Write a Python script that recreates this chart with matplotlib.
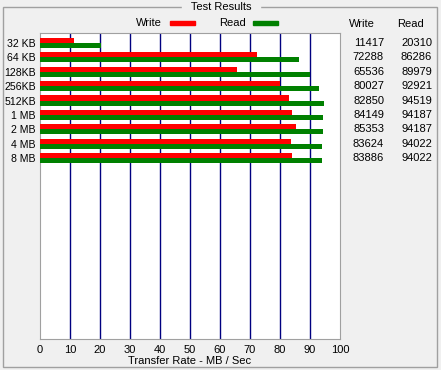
import matplotlib.pyplot as plt
from matplotlib.patches import Rectangle
import numpy as np

sizes = ['32 KB', '64 KB', '128KB', '256KB', '512KB', '1 MB', '2 MB', '4 MB', '8 MB']
write_kb = [11417, 72288, 65536, 80027, 82850, 84149, 85353, 83624, 83886]
read_kb = [20310, 86286, 89979, 92921, 94519, 94187, 94187, 94022, 94022]

W, H = 441, 370
bg = '#f0f0f0'
fs = 8
plt.rcParams['font.family'] = ['Liberation Sans', 'DejaVu Sans']

fig = plt.figure(figsize=(W / 100, H / 100), dpi=100, facecolor=bg)

def fx(px):
    return px / W

def fy(py):
    return 1 - py / H

# group box
fig.patches.append(Rectangle((fx(3), fy(367)), fx(434), fy(7) - fy(367),
                             transform=fig.transFigure, fill=False,
                             edgecolor='#a0a0a0', linewidth=1))
fig.text(fx(221), fy(7), ' Test Results ', ha='center', va='center', fontsize=fs,
         backgroundcolor=bg, color='black')

ax = fig.add_axes([fx(40), fy(339), fx(300), fy(33) - fy(339)])
ax.set_facecolor('white')

y = np.arange(len(sizes))
h = 0.35
write_mb = np.array(write_kb) / 1000
read_mb = np.array(read_kb) / 1000
ax.barh(y - h / 2, write_mb, height=h, color='#ff0000', zorder=3)
ax.barh(y + h / 2, read_mb, height=h, color='#008000', zorder=3)

for gx in range(10, 100, 10):
    ax.axvline(gx, color='#000080', linewidth=1, zorder=2)

ax.set_xlim(0, 100)
ax.set_ylim(20.56, -0.69)
ax.set_xticks(range(0, 101, 10))
ax.tick_params(axis='x', length=0, labelsize=fs, pad=4)
ax.set_yticks(y)
ax.set_yticklabels(sizes)
ax.tick_params(axis='y', length=0, labelsize=7.6, pad=3)
for s in ax.spines.values():
    s.set_color('#a0a0a0')
ax.set_xlabel('Transfer Rate - MB / Sec', fontsize=fs, labelpad=1)

# legend
fig.text(fx(162), fy(23), 'Write', ha='right', va='center', fontsize=fs)
fig.patches.append(Rectangle((fx(170), fy(25)), fx(25), fy(21) - fy(25),
                             transform=fig.transFigure, color='#ff0000'))
fig.text(fx(246), fy(23), 'Read', ha='right', va='center', fontsize=fs)
fig.patches.append(Rectangle((fx(253), fy(25)), fx(25), fy(21) - fy(25),
                             transform=fig.transFigure, color='#008000'))

# value table
fig.text(fx(349), fy(24), 'Write', ha='left', va='center', fontsize=fs)
fig.text(fx(397), fy(24), 'Read', ha='left', va='center', fontsize=fs)
for i in range(len(sizes)):
    yy = 43 + 14.4 * i
    fig.text(fx(384), fy(yy), str(write_kb[i]), ha='right', va='center', fontsize=fs)
    fig.text(fx(432), fy(yy), str(read_kb[i]), ha='right', va='center', fontsize=fs)

fig.savefig('out.png', dpi=100, facecolor=bg)
